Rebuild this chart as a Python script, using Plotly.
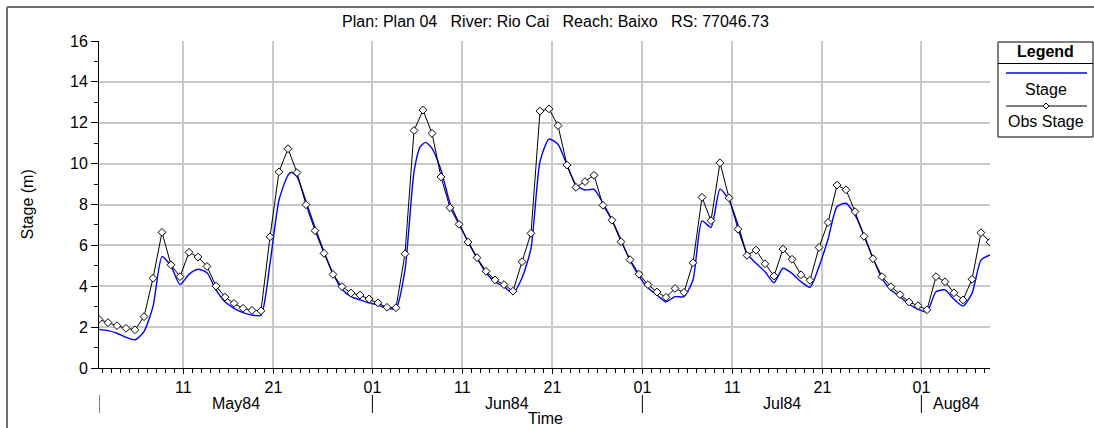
import pandas as pd
import plotly.graph_objects as go

# ---------------- data ----------------
obs_start = "1984-05-01 15:00"          # first daily observation
obs_m = [2.38, 2.22, 2.07, 1.94, 1.87, 2.51, 4.39, 6.64, 5.05, 4.47,
         5.66, 5.43, 4.97, 4.01, 3.47, 3.16, 2.92, 2.82, 2.80, 6.42,
         9.60, 10.73, 9.56, 7.99, 6.72, 5.61, 4.58, 3.98, 3.67, 3.57,
         3.38, 3.19, 2.97, 2.95, 5.59, 11.62, 12.62, 11.48, 9.35, 7.84,
         7.03, 6.16, 5.40, 4.73, 4.31, 4.08, 3.76, 5.20, 6.59, 12.57,
         12.68, 11.86, 9.93, 8.84, 9.12, 9.43, 7.96, 7.23, 6.18, 5.30,
         4.59, 4.08, 3.72, 3.46, 3.89, 3.70, 5.15, 8.35, 7.21, 10.04,
         8.33, 6.79, 5.51, 5.77, 5.10, 4.50, 5.82, 5.32, 4.56, 4.29,
         5.90, 7.12, 8.95, 8.72, 7.65, 6.44, 5.35, 4.47, 3.98, 3.59,
         3.23, 3.05, 2.85, 4.47, 4.22, 3.68, 3.33, 4.34, 6.62, 6.16]

# simulated stage: days after obs_start, value (m)
stage_day = [0, 1, 2, 3, 4, 5, 6, 7, 8, 9,
             10, 11, 12, 13, 14, 15, 16, 17, 18, 19,
             20, 21, 21.4, 22, 23, 24, 25, 26, 27, 28,
             29, 30, 31, 32, 33, 34, 35, 35.7, 36.3, 37,
             38, 39, 40, 41, 42, 43, 44, 45, 46, 47,
             48, 49, 50, 51, 52, 53, 54, 55, 56, 57,
             58, 59, 60, 61, 62, 63, 64, 65, 66, 67,
             68, 69, 70, 71, 72, 73, 74, 75, 76, 77,
             78, 79, 80, 81, 82, 83, 84, 85, 86, 87,
             88, 89, 90, 91, 92, 93, 94, 95, 96, 97,
             98, 99]
stage_m = [1.89, 1.83, 1.70, 1.50, 1.38, 1.78, 3.00, 5.45, 4.99, 4.08,
           4.58, 4.83, 4.66, 3.82, 3.24, 2.92, 2.71, 2.59, 2.58, 5.12,
           8.22, 9.44, 9.58, 9.36, 8.14, 6.88, 5.69, 4.63, 3.85, 3.49,
           3.33, 3.19, 3.08, 2.92, 2.92, 4.80, 9.60, 10.83, 11.04, 10.75,
           9.69, 8.06, 7.08, 6.18, 5.37, 4.66, 4.22, 3.98, 3.66, 4.40,
           5.85, 10.10, 11.20, 10.95, 9.93, 8.95, 8.71, 8.74, 8.06, 7.24,
           6.26, 5.27, 4.50, 3.93, 3.57, 3.24, 3.49, 3.49, 4.31, 7.20,
           6.88, 8.75, 8.22, 7.00, 5.61, 5.12, 4.71, 4.17, 4.88, 4.63,
           4.22, 3.95, 4.96, 6.30, 7.89, 8.06, 7.49, 6.51, 5.37, 4.39,
           3.82, 3.49, 3.13, 2.87, 2.75, 3.73, 3.82, 3.36, 3.03, 3.65,
           5.28, 5.53]

tick_dates = ["1984-05-11", "1984-05-21", "1984-06-01", "1984-06-11", "1984-06-21",
              "1984-07-01", "1984-07-11", "1984-07-21", "1984-08-01"]
tick_text = ["11", "21", "01", "11", "21", "01", "11", "21", "01"]
month_starts = ["1984-05-01", "1984-06-01", "1984-07-01", "1984-08-01"]
month_names = ["May84", "Jun84", "Jul84", "Aug84"]

title_text = "Plan: Plan 04\u00a0\u00a0\u00a0River: Rio Cai\u00a0\u00a0\u00a0Reach: Baixo\u00a0\u00a0\u00a0RS: 77046.73"

# ---------------- build ----------------
t0 = pd.Timestamp(obs_start)
obs_t = [t0 + pd.Timedelta(days=i) for i in range(len(obs_m))]
stage_t = [t0 + pd.Timedelta(days=d) for d in stage_day]
x_start = obs_t[0]
x_end = obs_t[-1]

FONT = "Liberation Sans, Arial, sans-serif"

fig = go.Figure()
fig.add_trace(go.Scatter(x=stage_t, y=stage_m, mode="lines", name="Stage",
                         line=dict(color="#0000ff", width=1.4, shape="spline", smoothing=0.6)))
fig.add_trace(go.Scatter(x=obs_t, y=obs_m, mode="lines+markers", name="Obs Stage",
                         line=dict(color="black", width=1),
                         marker=dict(symbol="diamond", size=6, color="white",
                                     line=dict(color="black", width=1))))

W, H = 1094, 428
L, R, T, B = 99, 990, 41, 368
pw, ph = R - L, B - T


def px(p):
    return (p - L) / pw


def py(q):
    return (B - q) / ph


shapes = []
annotations = []

# outer frame (left and top edges)
shapes.append(dict(type="line", xref="paper", yref="paper", x0=px(7), x1=px(7),
                   y0=py(7), y1=py(440), line=dict(color="#707070", width=2)))
shapes.append(dict(type="line", xref="paper", yref="paper", x0=px(7), x1=px(1100),
                   y0=py(7), y1=py(7), line=dict(color="#707070", width=2)))

# month separators and labels
ms = [pd.Timestamp(m) for m in month_starts]
for i, (m, name) in enumerate(zip(ms, month_names)):
    seg_start = max(m, x_start)
    seg_end = min(ms[i + 1], x_end) if i + 1 < len(ms) else x_end
    shapes.append(dict(type="line", xref="x", yref="paper", x0=seg_start, x1=seg_start,
                       y0=py(395), y1=py(413), line=dict(color="black", width=1)))
    mid = seg_start + (seg_end - seg_start) / 2
    annotations.append(dict(x=mid, y=py(403), xref="x", yref="paper", text=name,
                            showarrow=False, font=dict(size=16, color="black", family=FONT),
                            xanchor="center", yanchor="middle"))

annotations.append(dict(x=px(545), y=py(418), xref="paper", yref="paper", text="Time",
                        showarrow=False, font=dict(size=16, color="black", family=FONT),
                        xanchor="center", yanchor="middle"))
annotations.append(dict(x=px(27), y=0.5, xref="paper", yref="paper", text="Stage (m)",
                        textangle=-90, showarrow=False,
                        font=dict(size=16, color="black", family=FONT),
                        xanchor="center", yanchor="middle"))
annotations.append(dict(x=px(555), y=py(21), xref="paper", yref="paper", text=title_text,
                        showarrow=False, font=dict(size=16, color="black", family=FONT),
                        xanchor="center", yanchor="middle"))

# custom legend box
shapes.append(dict(type="rect", xref="paper", yref="paper", x0=px(998), x1=px(1093),
                   y0=py(137), y1=py(42), line=dict(color="black", width=1), fillcolor="white"))
shapes.append(dict(type="line", xref="paper", yref="paper", x0=px(998), x1=px(1093),
                   y0=py(63.5), y1=py(63.5), line=dict(color="black", width=1)))
shapes.append(dict(type="line", xref="paper", yref="paper", x0=px(1006), x1=px(1087),
                   y0=py(73), y1=py(73), line=dict(color="#0000ff", width=1.4)))
shapes.append(dict(type="line", xref="paper", yref="paper", x0=px(1006), x1=px(1087),
                   y0=py(106), y1=py(106), line=dict(color="black", width=1)))
cx, cy, d = 1046, 106, 3
shapes.append(dict(type="path", xref="paper", yref="paper",
                   path=f"M {px(cx - d)} {py(cy)} L {px(cx)} {py(cy - d)} L {px(cx + d)} {py(cy)} L {px(cx)} {py(cy + d)} Z",
                   fillcolor="white", line=dict(color="black", width=1)))
annotations.append(dict(x=px(1045.5), y=py(52), xref="paper", yref="paper", text="<b>Legend</b>",
                        showarrow=False, font=dict(size=16, color="black", family=FONT),
                        xanchor="center", yanchor="middle"))
annotations.append(dict(x=px(1045.5), y=py(89), xref="paper", yref="paper", text="Stage",
                        showarrow=False, font=dict(size=16, color="black", family=FONT),
                        xanchor="center", yanchor="middle"))
annotations.append(dict(x=px(1045.5), y=py(121), xref="paper", yref="paper", text="Obs Stage",
                        showarrow=False, font=dict(size=16, color="black", family=FONT),
                        xanchor="center", yanchor="middle"))

fig.update_layout(
    width=W, height=H,
    margin=dict(l=L, r=W - R, t=T, b=H - B, pad=0),
    paper_bgcolor="white", plot_bgcolor="white",
    showlegend=False,
    font=dict(family=FONT, size=16, color="black"),
    shapes=shapes, annotations=annotations,
    xaxis=dict(range=[x_start, x_end], type="date",
               tickmode="array", tickvals=tick_dates, ticktext=tick_text,
               ticks="outside", ticklen=5, tickcolor="black", tickwidth=1,
               showgrid=True, gridcolor="#c8c8c8", gridwidth=1.5,
               showline=True, linecolor="black", linewidth=1,
               zeroline=False, tickfont=dict(size=16, family=FONT),
               minor=dict(dtick=86400000, tick0="1984-05-01", ticks="outside", ticklen=4,
                          tickcolor="black", tickwidth=1, showgrid=False)),
    yaxis=dict(range=[0, 16], dtick=2, tick0=0,
               ticks="outside", ticklen=7, tickcolor="black", tickwidth=1,
               showgrid=True, gridcolor="#c8c8c8", gridwidth=1.5,
               showline=True, linecolor="black", linewidth=1,
               zeroline=False, tickfont=dict(size=16, family=FONT),
               minor=dict(dtick=1, tick0=0, ticks="outside", ticklen=4,
                          tickcolor="black", tickwidth=1, showgrid=False)),
)

fig.write_html("out.html", config={"displayModeBar": False},
               post_script="document.body.style.margin='0';document.body.style.overflow='hidden';")
